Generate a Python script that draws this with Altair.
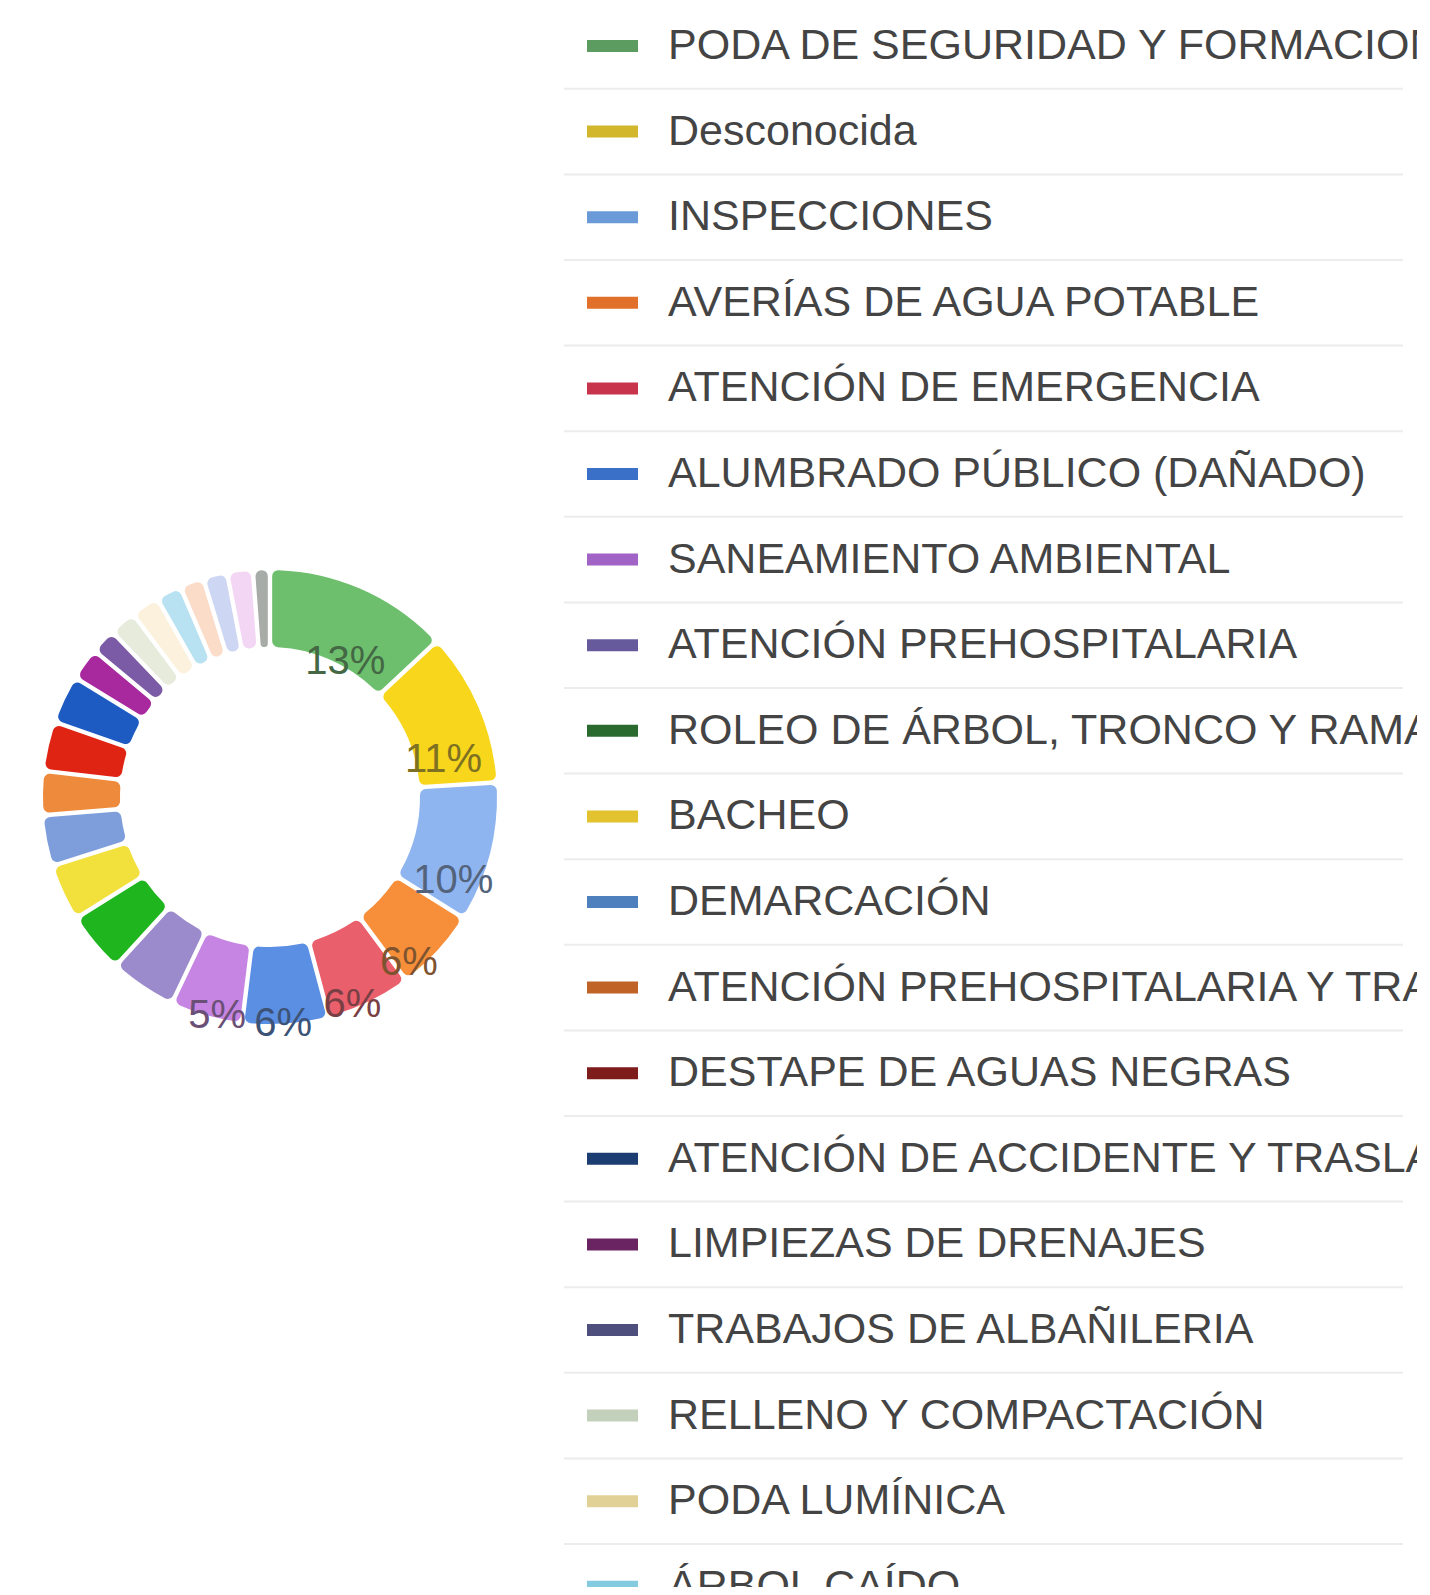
import altair as alt
import pandas as pd

# ---------------- data ----------------
categories = [
    "PODA DE SEGURIDAD Y FORMACION",
    "Desconocida",
    "INSPECCIONES",
    "AVERÍAS DE AGUA POTABLE",
    "ATENCIÓN DE EMERGENCIA",
    "ALUMBRADO PÚBLICO (DAÑADO)",
    "SANEAMIENTO AMBIENTAL",
    "ATENCIÓN PREHOSPITALARIA",
    "ROLEO DE ÁRBOL, TRONCO Y RAMAS",
    "BACHEO",
    "DEMARCACIÓN",
    "ATENCIÓN PREHOSPITALARIA Y TRASLADO",
    "DESTAPE DE AGUAS NEGRAS",
    "ATENCIÓN DE ACCIDENTE Y TRASLADO",
    "LIMPIEZAS DE DRENAJES",
    "TRABAJOS DE ALBAÑILERIA",
    "RELLENO Y COMPACTACIÓN",
    "PODA LUMÍNICA",
    "ÁRBOL CAÍDO",
    "OTRO 1",
    "OTRO 2",
    "OTRO 3",
    "OTRO 4",
]
values = [13.0, 10.9, 9.9, 5.9, 6.0, 6.1, 5.1, 4.7, 4.3, 4.0, 3.6, 3.1,
          3.5, 3.4, 2.3, 1.8, 1.9, 2.0, 1.8, 1.7, 1.7, 1.8, 1.2]

# ---------------- styles ----------------
donut_colors = [
    "#6dbf6d", "#f7d61c", "#8fb5f0", "#f78f3a", "#ea5f6c", "#5b8fe3",
    "#c785e3", "#9b8bcc", "#1fb51f", "#f2e03c", "#7d9ddb", "#ee8a3c",
    "#e02414", "#1d5bc2", "#a8289e", "#7b5aa6", "#e6ebdc", "#fcf1dc",
    "#b8e2f2", "#fbdcc8", "#cdd6f2", "#f3d6f3", "#a8aca8",
]
legend_colors = [
    "#5c9c60", "#d2b72c", "#6a9ad8", "#e0702a", "#c8344c", "#3b70c8",
    "#a263c6", "#675a9c", "#2a6a2e", "#e2c22e", "#4d80bd", "#bf6326",
    "#7e1c1c", "#1c3d72", "#6a2462", "#4f4f7e", "#c3d0bb", "#e2d196",
    "#84cbe0", "#f0c8b0", "#b8c4ea", "#e8c4e8", "#8a8e8a",
]


def darken(hexc, f=0.42):
    h = hexc.lstrip("#")
    r, g, b = (int(h[i:i + 2], 16) for i in (0, 2, 4))
    return "#%02x%02x%02x" % (int(r * f + 40 * (1 - f)), int(g * f + 40 * (1 - f)), int(b * f + 40 * (1 - f)))


label_colors = [darken(c) for c in donut_colors]

df = pd.DataFrame({"cat": categories, "value": values, "idx": list(range(len(categories)))})

W, H = 1409, 1579
CX, CY = 262, 789
ROW0, ROWSTEP = 38.0, 85.6
d0 = -ROW0 / ROWSTEP
d1 = d0 + H / ROWSTEP

base = alt.Chart(df)
theta = alt.Theta("value:Q", stack=True)
order = alt.Order("idx:Q", sort="ascending")

arcs = base.mark_arc(innerRadius=150, outerRadius=227, padAngle=0.016, cornerRadius=6).encode(
    theta=theta,
    order=order,
    color=alt.Color("cat:N", scale=alt.Scale(domain=categories, range=donut_colors), legend=None),
    x=alt.value(CX),
    y=alt.value(CY),
)

labels = base.transform_joinaggregate(
    total="sum(value)"
).transform_calculate(
    lab="datum.value / datum.total >= 0.05 ? format(datum.value / datum.total, '.0%') : ''"
).mark_text(
    radius=189, dy=38, fontSize=40, font="Liberation Sans", align="center", baseline="middle"
).encode(
    theta=theta,
    order=order,
    text="lab:N",
    color=alt.Color("cat:N", scale=alt.Scale(domain=categories, range=label_colors), legend=None),
    x=alt.value(CX),
    y=alt.value(CY),
)

yscale = alt.Scale(domain=[d0, d1], reverse=True, nice=False, zero=False)

separators = base.transform_calculate(sep="datum.idx + 0.5").mark_rule(
    color="#ececec", strokeWidth=2, clip=True
).encode(
    y=alt.Y("sep:Q", scale=yscale, axis=None),
    x=alt.value(556),
    x2=alt.value(1395),
)

swatches = base.mark_rule(strokeWidth=12, clip=True).encode(
    y=alt.Y("idx:Q", scale=yscale, axis=None),
    x=alt.value(579),
    x2=alt.value(630),
    color=alt.Color("cat:N", scale=alt.Scale(domain=categories, range=legend_colors), legend=None),
)

names = base.mark_text(
    align="left", baseline="middle", fontSize=43, font="Liberation Sans",
    color="#444444", clip=True
).encode(
    y=alt.Y("idx:Q", scale=yscale, axis=None),
    x=alt.value(660),
    text="cat:N",
)

chart = alt.layer(arcs, labels, separators, swatches, names).resolve_scale(
    color="independent"
).properties(
    width=W, height=H, padding=0, autosize=alt.AutoSizeParams(type="none"),
    background="white",
).configure_view(stroke=None)

chart.save("out.html", embed_options={"renderer": "svg", "actions": False})
